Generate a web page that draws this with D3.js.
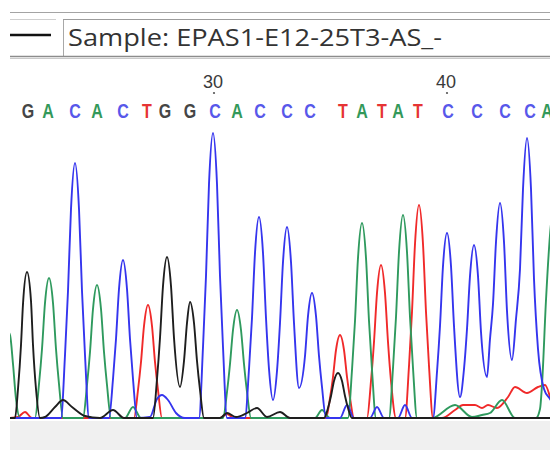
<!DOCTYPE html>
<html>
<head>
<meta charset="utf-8">
<script src="https://cdn.jsdelivr.net/npm/d3@7"></script>
<style>
  html, body { margin: 0; padding: 0; background: #fff; }
  svg { display: block; }
</style>
</head>
<body>
<div id="chart"></div>
<script>
const W = 550;
const H = 450;

const sampleName = "Sample: EPAS1-E12-25T3-AS_-";

// base calls (scan position of each call)
const baseLetters = ["G","A","C","A","C","T","G","G","C","A","C","C","C","T","A","T","A","T","C","C","C","C","A"];
const baseScans = [18, 38, 65, 87, 113, 137, 155, 180, 205, 227, 250, 277, 300, 333, 352, 372, 388, 408, 438, 467, 495, 520, 537];
const firstBaseNumber = 22;

// traces: [scan, intensity]
const traceA = [[-6,460],[0,420],[3,275],[6,100],[10,5],
  [25,5],[29,175],[32,350],[35,580],[39,705],[43,580],[46,350],[49,175],[53,5],
  [73,5],[77,170],[80,335],[83,550],[87,670],[91,550],[94,335],[97,170],[101,5],
  [115,5],[123,60],[131,5],
  [213,5],[217,135],[220,275],[223,445],[227,545],[231,445],[234,275],[237,135],[241,5],
  [305,5],[312,45],[320,5],
  [338,5],[342,245],[345,490],[348,805],[352,980],[356,805],[359,490],[362,245],[366,5],
  [379,5],[383,255],[386,510],[389,835],[393,1020],[397,835],[400,510],[403,255],[407,5],
  [422,5],[445,70],[462,10],[472,20],[480,30],[492,95],[505,5],
  [526,5],[530,50],[532,170],[536,595],[540,920],[544,1100]];

const traceC = [[0,5],[51,5],[55,320],[58,640],[61,1050],[65,1280],[69,1050],[72,640],[75,320],[79,5],
  [99,5],[103,200],[106,400],[109,650],[113,795],[117,650],[120,400],[123,200],[127,5],
  [140,10],[147,100],[152,120],[158,95],[166,30],[175,5],
  [189,5],[193,360],[196,715],[199,1175],[203,1430],[207,1175],[210,715],[213,360],[217,5],
  [235,5],[239,250],[242,505],[245,830],[249,1010],[253,830],[256,505],[259,250],[263,95],
  [267,240],[270,480],[273,785],[277,960],[281,785],[284,480],[289,155],
  [295,315],[298,515],[302,630],[306,515],[309,315],[312,160],[316,5],
  [330,5],[337,70],[344,5],[360,5],[367,60],[374,5],[388,5],[395,70],[402,5],
  [423,5],[427,235],[430,465],[433,765],[437,930],[441,765],[444,465],[450,110],
  [454,250],[457,450],[460,715],[464,870],[468,715],[471,435],[477,210],
  [480,400],[483,575],[486,885],[490,1080],[494,885],[497,540],[502,295],
  [506,500],[510,750],[513,1150],[517,1405],[521,1150],[524,700],[528,350],[534,150],[540,100],[546,50]];

const traceG = [[0,5],[5,5],[8,150],[11,370],[13,575],[17,735],[21,590],[23,370],[26,150],[30,5],
  [35,10],[45,60],[53,95],[62,60],[75,15],
  [90,5],[103,45],[114,5],
  [143,5],[147,200],[150,405],[153,665],[157,810],[161,665],[164,405],[170,160],
  [174,290],[177,480],[180,585],[184,480],[187,290],[190,145],[194,5],
  [210,5],[217,30],[226,10],[237,30],[247,55],[257,10],[270,35],[280,5],
  [314,5],[318,55],[321,115],[324,190],[328,230],[332,190],[335,115],[338,55],[342,5],
  [510,5],[540,5]];

const traceT = [[0,5],[8,10],[15,35],[22,5],
  [124,5],[128,145],[131,285],[134,465],[138,570],[142,465],[145,285],[148,145],[152,5],
  [210,5],[217,25],[224,5],
  [316,5],[320,105],[323,210],[326,345],[330,420],[334,345],[337,210],[340,105],[344,5],
  [357,5],[361,190],[364,385],[367,630],[371,770],[375,630],[378,385],[381,190],[386,5],
  [395,5],[399,265],[402,535],[405,875],[409,1070],[413,875],[416,535],[419,265],[423,5],
  [432,5],[445,45],[453,70],[465,70],[472,55],[478,70],[487,55],[498,110],[505,160],[517,130],[528,160],[535,170],[540,110]];

const traces = [
  { base: "T", points: traceT, colour: "#f02a2a" },
  { base: "A", points: traceA, colour: "#2f9a5e" },
  { base: "C", points: traceC, colour: "#3535ee" },
  { base: "G", points: traceG, colour: "#1e1e1e" }
];

const letterColour = { G: "#454545", A: "#33995a", C: "#5858ea", T: "#e63434" };

const svg = d3.select("#chart").append("svg")
    .attr("width", W)
    .attr("height", H);

svg.append("rect").attr("width", W).attr("height", H).attr("fill", "#fff");

// ---- toolbar at the top
const bar = svg.append("g");
bar.append("line").attr("x1", 10).attr("x2", W).attr("y1", 12.5).attr("y2", 12.5)
    .attr("stroke", "#a4a4a4").attr("stroke-width", 1);
bar.append("line").attr("x1", 10).attr("x2", 56).attr("y1", 19.5).attr("y2", 19.5)
    .attr("stroke", "#cfcfcf").attr("stroke-width", 1);
bar.append("line").attr("x1", 10).attr("x2", 51).attr("y1", 35).attr("y2", 35)
    .attr("stroke", "#111").attr("stroke-width", 2.5);
bar.append("line").attr("x1", 63.5).attr("x2", 63.5).attr("y1", 19).attr("y2", 56)
    .attr("stroke", "#a8a8a8").attr("stroke-width", 1);
bar.append("line").attr("x1", 63).attr("x2", W).attr("y1", 19.5).attr("y2", 19.5)
    .attr("stroke", "#9c9c9c").attr("stroke-width", 1);
bar.append("line").attr("x1", 10).attr("x2", W).attr("y1", 56.5).attr("y2", 56.5)
    .attr("stroke", "#8c8c8c").attr("stroke-width", 1.5);
bar.append("line").attr("x1", 10).attr("x2", W).attr("y1", 58.5).attr("y2", 58.5)
    .attr("stroke", "#cacaca").attr("stroke-width", 1);
bar.append("text")
    .attr("x", 68).attr("y", 46)
    .attr("textLength", 374)
    .attr("lengthAdjust", "spacingAndGlyphs")
    .style("font-family", "'Open Sans', 'Noto Sans', sans-serif")
    .style("font-size", "23px")
    .attr("fill", "#333")
    .text(sampleName);

// ---- scales
const x = d3.scaleLinear().domain([0, 540]).range([10, 550]);
const y = d3.scaleLinear().domain([0, 1500]).range([419, 119]);

// grey strip under the traces
svg.append("rect")
    .attr("x", 10).attr("y", 421)
    .attr("width", W - 10).attr("height", H - 421)
    .attr("fill", "#f0f0f0");

svg.append("clipPath").attr("id", "plotClip")
  .append("rect").attr("x", 10).attr("y", 60).attr("width", 540).attr("height", 361);

const line = d3.line()
    .x(d => x(d[0]))
    .y(d => y(d[1]))
    .curve(d3.curveMonotoneX);

const traceLayer = svg.append("g").attr("clip-path", "url(#plotClip)");
traceLayer.selectAll("path")
  .data(traces)
  .join("path")
    .attr("d", d => line(d.points))
    .attr("fill", "none")
    .attr("stroke", d => d.colour)
    .attr("stroke-width", 1.9)
    .attr("stroke-linejoin", "round");

// ---- base calls
const calls = baseLetters.map((b, i) => ({ base: b, scan: baseScans[i], num: firstBaseNumber + i }));

svg.append("g").selectAll("text")
  .data(calls)
  .join("text")
    .attr("transform", d => `translate(${x(d.scan)},118) scale(0.8,1)`)
    .attr("text-anchor", "middle")
    .style("font-family", "'Liberation Sans', Arial, sans-serif")
    .style("font-weight", "bold")
    .style("font-size", "20px")
    .attr("fill", d => letterColour[d.base])
    .text(d => d.base);

const numbered = calls.filter(d => d.num % 10 === 0);
const numG = svg.append("g");
numG.selectAll("text")
  .data(numbered)
  .join("text")
    .attr("x", d => x(d.scan) - 2)
    .attr("y", 88)
    .attr("text-anchor", "middle")
    .style("font-family", "'Liberation Sans', Arial, sans-serif")
    .style("font-size", "18px")
    .attr("fill", "#3a3a3a")
    .text(d => d.num);
numG.selectAll("circle")
  .data(numbered)
  .join("circle")
    .attr("cx", d => x(d.scan) - 1)
    .attr("cy", 93)
    .attr("r", 1.1)
    .attr("fill", "#555");
</script>
</body>
</html>
